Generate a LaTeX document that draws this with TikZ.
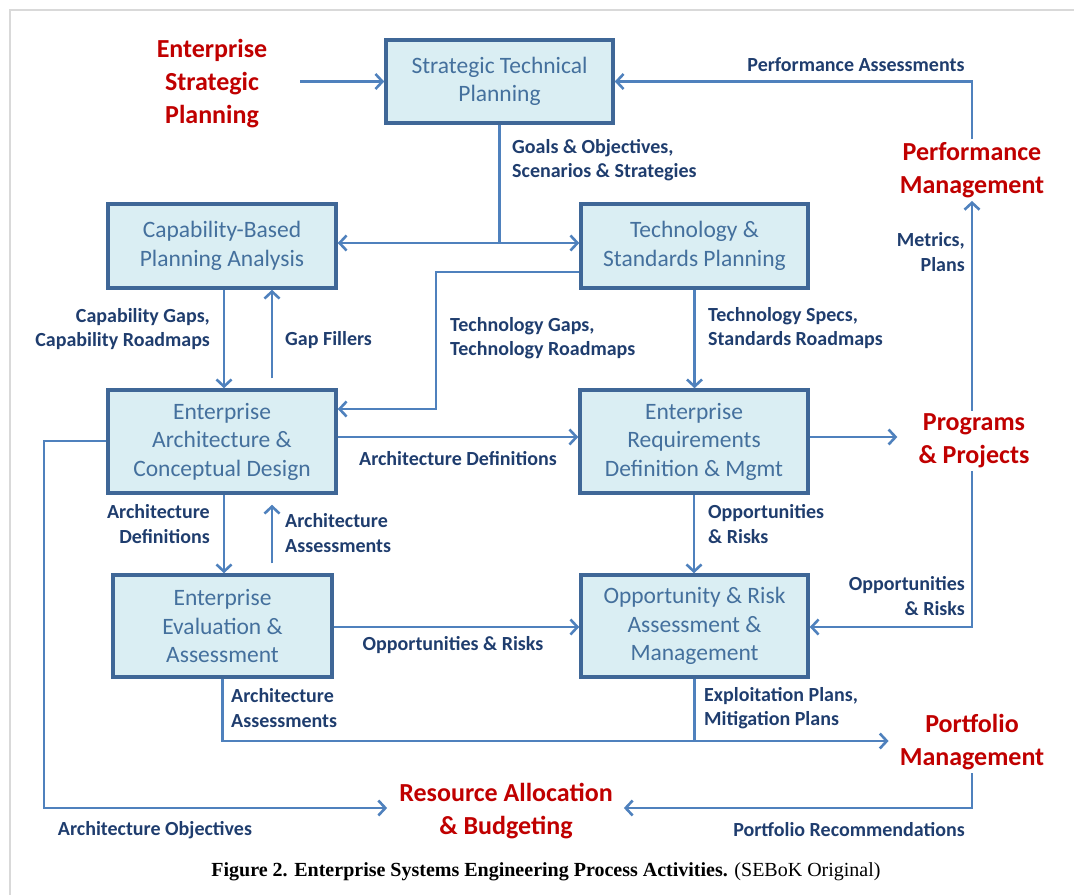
\documentclass[tikz,border=0pt]{standalone}
\usepackage{xcolor}
\usepackage{fontspec}
\setmainfont{Carlito}
\newfontfamily\capfont{Liberation Serif}
\usepackage{tikz}
\usetikzlibrary{
  positioning,
  arrows.meta
}

\definecolor{boxfill}{HTML}{DAEEF3}
\definecolor{boxline}{HTML}{3F6797}
\definecolor{boxtext}{HTML}{44709D}
\definecolor{flow}{HTML}{4F81BD}
\definecolor{navy}{HTML}{1F3D6E}
\definecolor{darkred}{HTML}{C00000}

\begin{document}
\begin{tikzpicture}[
  x=1pt, y=-1pt,
  activity/.style={draw=boxline, line width=3.5pt, fill=boxfill, text=boxtext, align=center, inner sep=2pt, font=\fontsize{23.5}{28.5}\selectfont},
  outside/.style={text=darkred, align=center, inner sep=3pt, font=\fontsize{26}{33}\selectfont\bfseries},
  flowlabel/.style={text=navy, inner sep=0pt, font=\fontsize{20}{24.5}\selectfont\bfseries},
  line/.style={draw=flow, line width=2.6pt},
  conn/.style={line, -{Straight Barb[length=7pt, width=15pt]}},
]
\useasboundingbox (0,0) rectangle (1074,895);
% Rand der Seite
\draw[gray!30, line width=1.5pt] (1074,10) -- (10,10) -- (10,895);

% Aktivitaeten
\node[activity, minimum width=227pt, minimum height=83pt] (stp) at (499.5,81.5) {Strategic Technical\\Planning};
\node[activity, minimum width=228pt, minimum height=84pt] (cbpa) at (222,246) {Capability-Based\\Planning Analysis};
\node[activity, minimum width=227pt, minimum height=84pt] (tsp) at (694.5,246) {Technology \&\\Standards Planning};
\node[activity, minimum width=228pt, minimum height=103pt] (eacd) at (222,441.5) {Enterprise\\Architecture \&\\Conceptual Design};
\node[activity, minimum width=228pt, minimum height=103pt] (erdm) at (694,441.5) {Enterprise\\Requirements\\Definition \& Mgmt};
\node[activity, minimum width=219pt, minimum height=102pt] (eea) at (222.5,626) {Enterprise\\Evaluation \&\\Assessment};
\node[activity, minimum width=227pt, minimum height=102pt] (oram) at (694.5,626) {Opportunity \& Risk\\Assessment \&\\Management};

% Externe Prozesse
\node[outside] (esp) at (212,84) {Enterprise\\Strategic\\Planning};
\node[outside] (perf) at (972,170) {Performance\\Management};
\node[outside] (prog) at (974,441) {Programs\\\& Projects};
\node[outside] (port) at (972,742) {Portfolio\\Management};
\node[outside] (res) at (506,811) {Resource Allocation\\\& Budgeting};

% Fluesse
\coordinate (goal) at (499.5,243);
\draw[conn, shorten <=30pt] (esp.east |- stp.west) -- (stp.west);
\draw[conn] (perf.north) |- (stp.east);
\draw[line] (stp.south) -- (goal);
\draw[conn] (goal) -- (goal -| cbpa.east);
\draw[conn] (goal) -- (goal -| tsp.west);
\draw[conn] (tsp.west |- 0,272) -| (436,409) -- (eacd.east |- 0,409);
\draw[conn] (tsp.south) -- (erdm.north -| tsp.south);
\draw[conn] (cbpa.south -| 224,0) -- (eacd.north -| 224,0);
\draw[conn, shorten <=10pt] (eacd.north -| 272,0) -- (cbpa.south -| 272,0);
\draw[conn] (eacd.east |- 0,437) -- (erdm.west |- 0,437);
\draw[conn, shorten >=18pt] (erdm.east |- 0,437) -- (prog.west |- 0,437);
\draw[conn] (prog.north -| perf.south) -- (perf.south);
\draw[conn] (prog.south -| perf.south) |- (oram.east |- 0,627);
\draw[conn] (erdm.south) -- (oram.north -| erdm.south);
\draw[conn] (eacd.south -| 224,0) -- (eea.north -| 224,0);
\draw[conn, shorten <=10pt, shorten >=10pt] (eea.north -| 272,0) -- (eacd.south -| 272,0);
\draw[conn] (eea.east |- 0,627) -- (oram.west |- 0,627);
\draw[conn, shorten >=8pt] (eea.south) |- (port.west |- 0,741);
\draw[line] (oram.south) -- (oram.south |- 0,741);
\draw[conn, shorten >=9pt] (eacd.west |- 0,441) -| (44,808) -- (res.west |- 0,808);
\draw[conn, shorten >=8pt] (port.south) |- (res.east |- 0,808);

% Beschriftungen
\node[flowlabel] (lperf) at (856,65) {Performance Assessments};
\node[flowlabel, anchor=west, align=left] (lgoal) at (512,160) {Goals \& Objectives,\\Scenarios \& Strategies};
\node[flowlabel, anchor=west, align=left] (ltgap) at (450,338) {Technology Gaps,\\Technology Roadmaps};
\node[flowlabel, anchor=west, align=left] (ltspec) at (708,328) {Technology Specs,\\Standards Roadmaps};
\node[flowlabel, anchor=east, align=right] (lcgap) at (210,329) {Capability Gaps,\\Capability Roadmaps};
\node[flowlabel, anchor=west] (lgap) at (285,340) {Gap Fillers};
\node[flowlabel] (ladef) at (458,459) {Architecture Definitions};
\node[flowlabel, anchor=east, align=right] (lmetric) at (965,252) {Metrics,\\Plans};
\node[flowlabel, anchor=west, align=left] (lopp) at (708,524) {Opportunities\\\& Risks};
\node[flowlabel, anchor=east, align=right] (lopp2) at (965,596) {Opportunities\\\& Risks};
\node[flowlabel, anchor=east, align=right] (ladef2) at (210,524) {Architecture\\Definitions};
\node[flowlabel, anchor=west, align=left] (laass) at (285,533) {Architecture\\Assessments};
\node[flowlabel] (lopp3) at (453,645) {Opportunities \& Risks};
\node[flowlabel, anchor=west, align=left] (laass2) at (231,708) {Architecture\\Assessments};
\node[flowlabel, anchor=west, align=left] (lexp) at (704,708) {Exploitation Plans,\\Mitigation Plans};
\node[flowlabel] (laobj) at (155,830) {Architecture Objectives};
\node[flowlabel] (lprec) at (849,830) {Portfolio Recommendations};

% Bildunterschrift
\node[font=\capfont\fontsize{20}{24}\selectfont] (caption) at (546,872) {\textbf{Figure 2. Enterprise Systems Engineering Process Activities.} (SEBoK Original)};
\end{tikzpicture}
\end{document}
